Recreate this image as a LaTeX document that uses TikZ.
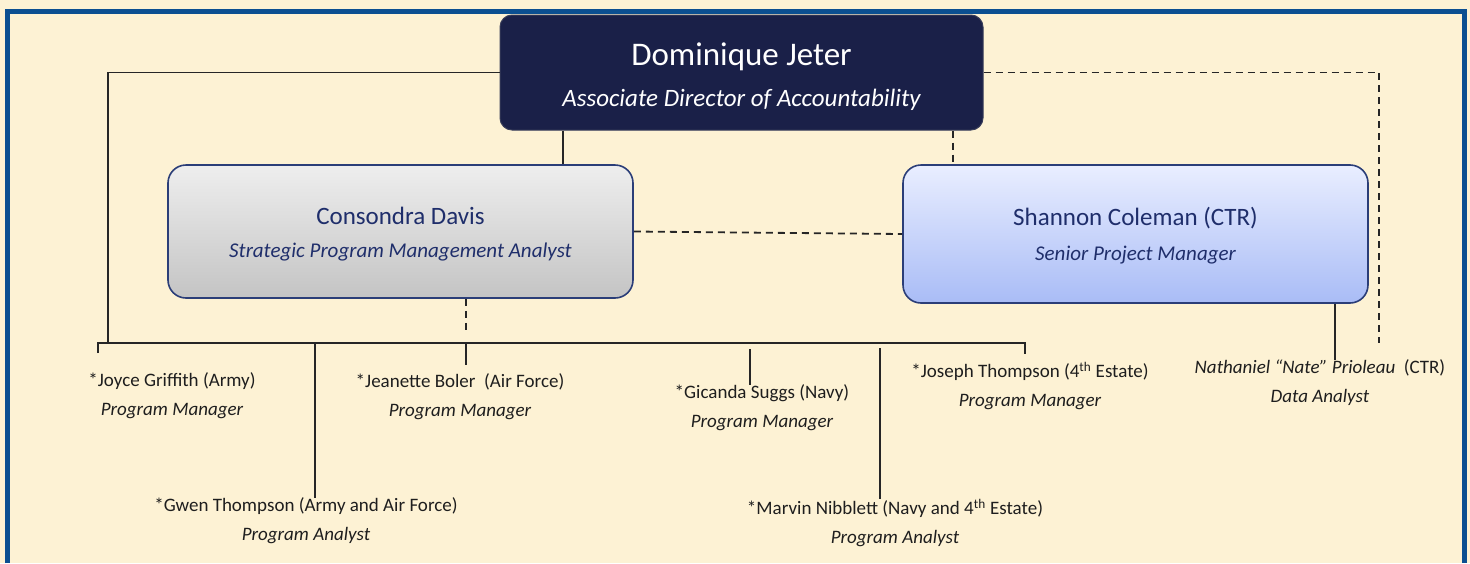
\documentclass[tikz,border=0pt]{standalone}
\usepackage{fontspec}
\setmainfont{Carlito}
\definecolor{bg}{HTML}{FDF2D4}
\definecolor{framec}{HTML}{0B4F91}
\definecolor{navy}{HTML}{1A2048}
\definecolor{txtblue}{HTML}{1F2E6B}
\definecolor{edgec}{HTML}{2B3E78}
\definecolor{txtgray}{HTML}{1E1E1E}
\definecolor{graytop}{HTML}{EEEEEE}
\definecolor{graybot}{HTML}{C4C4C4}
\definecolor{bluetop}{HTML}{E9EEFF}
\definecolor{bluebot}{HTML}{A9BCF6}
\tikzset{
  topbox/.style={draw=navy!70!gray, fill=navy, rounded corners=12pt, line width=1pt},
  graybox/.style={draw=edgec, rounded corners=18pt, line width=1.6pt, top color=graytop, bottom color=graybot},
  bluebox/.style={draw=edgec, rounded corners=18pt, line width=1.6pt, top color=bluetop, bottom color=bluebot},
  topname/.style={text=white, inner sep=0pt, font=\fontsize{33}{40}\selectfont},
  toptitle/.style={text=white, inner sep=0pt, font=\fontsize{25}{30}\selectfont\itshape},
  boxname/.style={text=txtblue, inner sep=0pt, font=\fontsize{25}{30}\selectfont},
  boxtitle/.style={text=txtblue, inner sep=0pt, font=\fontsize{21}{26}\selectfont\itshape},
  conn/.style={line width=1.8pt, black!85},
  dconn/.style={line width=1.8pt, black!85, dash pattern=on 7pt off 5pt},
  person/.style={align=center, text=txtgray, font=\fontsize{19}{29}\selectfont, inner sep=0pt},
}
\begin{document}
\begin{tikzpicture}[x=1pt,y=-1pt]
\fill[bg] (0,0) rectangle (1470,563);
\useasboundingbox (0,0) rectangle (1470,563);
\draw[framec, line width=5pt] (7.5,563) -- (7.5,11.5) -- (1464.5,11.5) -- (1464.5,563);

% boxes
\node[topbox, minimum width=483pt, minimum height=115pt] (dj) at (741.5,72.5) {};
\node[topname] (djn) at (741.5,57) {Dominique Jeter};
\node[toptitle] (djt) at (741.5,100) {Associate Director of Accountability};

\node[graybox, minimum width=465pt, minimum height=133pt] (cd) at (400.5,231.5) {};
\node[boxname] (cdn) at (400.5,216) {Consondra Davis};
\node[boxtitle] (cdt) at (400.5,252) {Strategic Program Management Analyst};

\node[bluebox, minimum width=465pt, minimum height=138pt] (sc) at (1135.5,234) {};
\node[boxname] (scn) at (1135.5,218) {Shannon Coleman (CTR)};
\node[boxtitle] (sct) at (1135.5,255) {Senior Project Manager};

% bus coordinates
\coordinate (lj) at (108,343);
\coordinate (busL) at (98,343);
\coordinate (busR) at (1025,343);
\coordinate (rd) at (1379,343);
\coordinate (jbd) at (466,334);
\coordinate (jbt) at (466,343);
\coordinate (jbb) at (466,365);
\coordinate (gtt) at (315,343);
\coordinate (gst) at (750,349);
\coordinate (mnt) at (880,348);

% people
\node[person] (jg) at (172,396) {*Joyce Griffith (Army)\\\itshape Program Manager};
\node[person] (jb) at (460,397) {*Jeanette Boler\ \ (Air Force)\\\itshape Program Manager};
\node[person] (gt) at (306,521) {*Gwen Thompson (Army and Air Force)\\\itshape Program Analyst};
\node[person] (gs) at (762,408) {*Gicanda Suggs (Navy)\\\itshape Program Manager};
\node[person] (jt) at (1030,386) {*Joseph Thompson (4\textsuperscript{th} Estate)\\\itshape Program Manager};
\node[person] (mn) at (895,523) {*Marvin Nibblett (Navy and 4\textsuperscript{th} Estate)\\\itshape Program Analyst};
\node[person] (np) at (1320,383) {\itshape Nathaniel “Nate” Prioleau\ \ \upshape (CTR)\\\itshape Data Analyst};

% connectors
\draw[conn] (dj.west) -| (lj);
\draw[conn] (busL) ++(0,10) -- (busL) -- (busR) -- ++(0,11);
\draw[conn] (dj.south -| 563,0) -- (cd.north -| 563,0);
\draw[dconn] (dj.south -| 953,0) -- (sc.north -| 953,0);
\draw[dconn] (dj.east) -| (rd);
\draw[dconn] (cd.east) -- (sc.west);
\draw[dconn] (cd.south -| jbd) -- (jbd);
\draw[conn] (jbt) -- (jbb);
\draw[conn] (gtt) -- (gt.north -| gtt);
\draw[conn] (gst) -- (gs.north -| gst);
\draw[conn] (mnt) -- (mn.north -| mnt);
\draw[conn] (sc.south -| 1335,0) -- (np.north -| 1335,0);
\end{tikzpicture}
\end{document}
